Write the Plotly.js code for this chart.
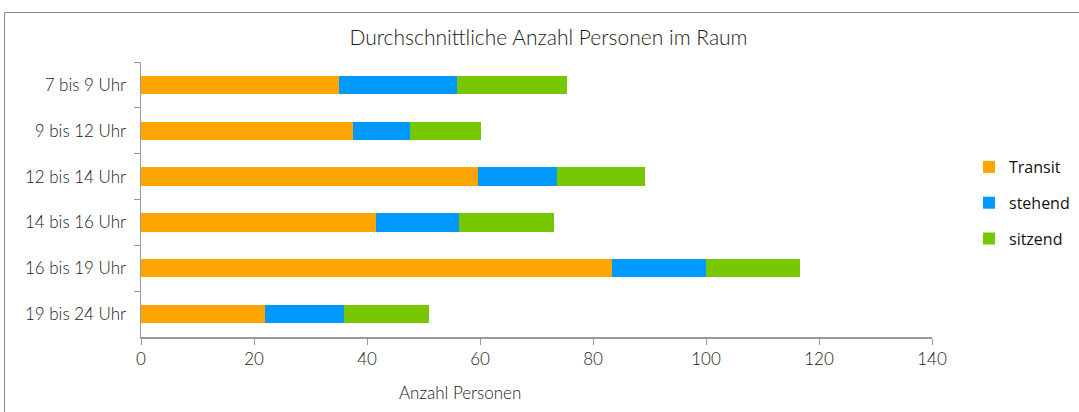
<!DOCTYPE html>
<html>
<head>
<meta charset="utf-8">
<script src="https://cdn.plot.ly/plotly-3.0.1.min.js"></script>
<style>
html,body{margin:0;padding:0;background:#fff;}
#chart{width:1079px;height:412px;}
</style>
</head>
<body>
<div id="chart"></div>
<script>
const categories = ["7 bis 9 Uhr","9 bis 12 Uhr","12 bis 14 Uhr","14 bis 16 Uhr","16 bis 19 Uhr","19 bis 24 Uhr"];
const transit = [35.0, 37.5, 59.7, 41.6, 83.4, 22.0];
const stehend = [21.0, 10.1, 14.0, 14.7, 16.6, 14.0];
const sitzend = [19.4, 12.6, 15.5, 16.8, 16.6, 15.0];
const seriesNames = ["Transit","stehend","sitzend"];
const xTicks = [0,20,40,60,80,100,120,140];

const colors = ["#FFA500","#0099FF","#76C600"];
const vals = [transit, stehend, sitzend];
const traces = vals.map((v,i)=>({
  type:'bar', orientation:'h', name:seriesNames[i], x:v, y:categories, legendgroup:'g'+i,
  marker:{color:colors[i], line:{width:0}}, hoverinfo:'x+name'
}));

const tickFont = {family:'Lato, "DejaVu Sans", sans-serif', size:17, color:'#1a1a1a', weight:300};
const layout = {
  width:1079, height:412,
  margin:{l:141, r:147, t:62, b:75, pad:0, autoexpand:false},
  paper_bgcolor:'#fff', plot_bgcolor:'#fff',
  barmode:'stack', bargap:0.6,
  title:{text:'Durchschnittliche Anzahl Personen im Raum', x:548.5/1079, xref:'container', xanchor:'center',
    y:(412-38)/412, yref:'container', yanchor:'middle',
    font:{family:'Lato, "DejaVu Sans", sans-serif', size:21, color:'#1a1a1a', weight:300}},
  xaxis:{range:[0,140], tickvals:xTicks, ticktext:xTicks.map(String), showgrid:false, zeroline:false,
    showline:true, linecolor:'#9a9a9a', linewidth:1.5, ticks:'outside', ticklen:6, tickcolor:'#9a9a9a',
    tickfont:tickFont, fixedrange:true},
  yaxis:{autorange:'reversed', type:'category', showgrid:false, zeroline:false, showline:true,
    linecolor:'#9a9a9a', linewidth:1.5, ticks:'outside', tickson:'boundaries', ticklen:6, tickcolor:'#9a9a9a',
    tickfont:tickFont, ticklabelstandoff:10, fixedrange:true},
  legend:{x:969/1079, xref:'container', xanchor:'left', y:(412-203)/412, yref:'container', yanchor:'middle',
    traceorder:'grouped', tracegroupgap:12,
    font:{family:'"Open Sans", "Noto Sans", sans-serif', size:16, color:'#111'},
    itemwidth:30},
  annotations:[{text:'Anzahl Personen', xref:'paper', yref:'paper', x:(460-141)/791, y:-0.2,
    xanchor:'center', yanchor:'middle', showarrow:false,
    font:{family:'Lato, "DejaVu Sans", sans-serif', size:17, color:'#1a1a1a', weight:300}}],
  shapes:[{type:'rect', xref:'paper', yref:'paper',
    x0:(4.5-141)/791, x1:(1085-141)/791, y0:(337-415)/275, y1:(337-12.5)/275,
    line:{color:'#7d8d97', width:1}, fillcolor:'rgba(0,0,0,0)', layer:'below'}]
};
Plotly.newPlot('chart', traces, layout, {displayModeBar:false, staticPlot:true});
</script>
</body>
</html>
